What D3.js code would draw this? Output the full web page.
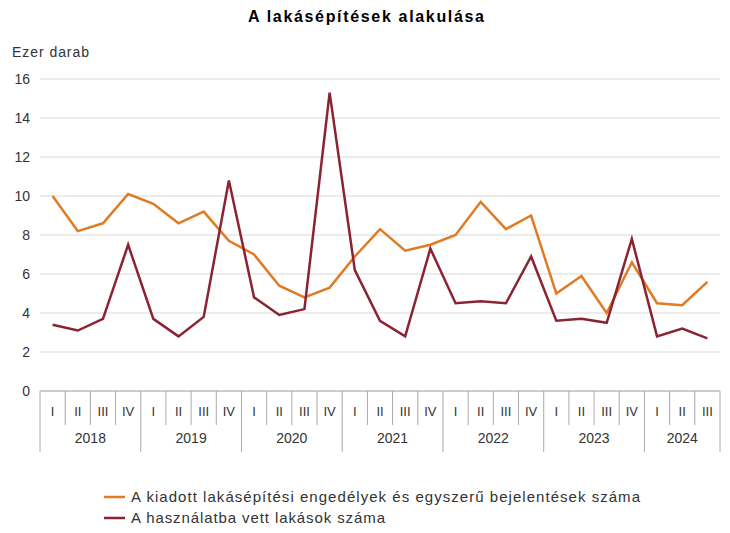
<!DOCTYPE html>
<html><head><meta charset="utf-8">
<script src="https://cdn.jsdelivr.net/npm/d3@7"></script>
<style>body{margin:0;background:#fff;font-family:"Liberation Sans",Arial,sans-serif}</style>
</head><body><svg id="c" width="730" height="533"></svg>
<script>
const years = ["2018","2019","2020","2021","2022","2023","2024"]
const quarters = ["I","II","III","IV"]
const permits = [10.0,8.2,8.6,10.1, 9.6,8.6,9.2,7.7, 7.0,5.4,4.8,5.3, 6.9,8.3,7.2,7.5, 8.0,9.7,8.3,9.0, 5.0,5.9,4.0,6.6, 4.5,4.4,5.6]
const completed = [3.4,3.1,3.7,7.5, 3.7,2.8,3.8,10.8, 4.8,3.9,4.2,15.3, 6.2,3.6,2.8,7.3, 4.5,4.6,4.5,6.9, 3.6,3.7,3.5,7.8, 2.8,3.2,2.7]
const yTicks = [0,2,4,6,8,10,12,14,16]
const seriesNames = ["A kiadott lakásépítési engedélyek és egyszerű bejelentések száma","A használatba vett lakások száma"]
const legendWidths = [509, 254]
const colors = ["#e07b24","#8b2332"]

let svg = d3.select("#c")
let keys = []
years.forEach(y => quarters.forEach(q => keys.push(y + q)))
keys = keys.slice(0, permits.length)

let x = d3.scaleBand().domain(keys).range([40, 720])
let y = d3.scaleLinear().domain([0,16]).range([391, 79])

svg.append("text").attr("x", 248).attr("y", 22).attr("textLength",236).attr("lengthAdjust","spacing")
  .attr("font-weight","bold").attr("font-size",16).text("A lakásépítések alakulása")
svg.append("text").attr("x", 12).attr("y", 57).attr("font-size",14).attr("textLength",77).attr("fill","#333").text("Ezer darab")

// grid
svg.selectAll(".grid").data(yTicks).enter().append("line")
  .attr("x1",40).attr("x2",720).attr("y1",d=>y(d)).attr("y2",d=>y(d))
  .attr("stroke",d=>d==0?"#999":"#d9d9d9")
svg.selectAll(".yl").data(yTicks).enter().append("text")
  .attr("x",30).attr("y",d=>y(d)+5).attr("text-anchor","end").attr("font-size",14).attr("fill","#333").text(d=>d)

// category axis
keys.forEach((k,i) => {
  let x0 = x(k)
  let isYear = i % 4 == 0
  svg.append("line").attr("x1",x0).attr("x2",x0).attr("y1",391).attr("y2",isYear?452:425).attr("stroke","#aaa")
  svg.append("text").attr("x",x0+x.bandwidth()/2).attr("y",416).attr("text-anchor","middle")
    .attr("font-size",13).attr("fill","#333").text(quarters[i%4])
})
svg.append("line").attr("x1",720).attr("x2",720).attr("y1",391).attr("y2",452).attr("stroke","#aaa")
years.forEach((yr,j) => {
  let ks = keys.slice(j*4, j*4+4)
  let cx = (x(ks[0]) + x(ks[ks.length-1]) + x.bandwidth())/2
  svg.append("text").attr("x",cx).attr("y",443).attr("text-anchor","middle").attr("font-size",14).attr("fill","#333").text(yr)
})

let line = d3.line().x((d,i)=>x(keys[i])+x.bandwidth()/2).y(d=>y(d))
;[permits, completed].forEach((s,i) => {
  svg.append("path").attr("d", line(s)).attr("fill","none").attr("stroke",colors[i]).attr("stroke-width",2.5)
})

// legend
seriesNames.forEach((n,i) => {
  let ly = 497 + i*21
  svg.append("line").attr("x1",104).attr("x2",125).attr("y1",ly).attr("y2",ly).attr("stroke",colors[i]).attr("stroke-width",2.5)
  svg.append("text").attr("x",131).attr("y",ly+5).attr("font-size",15).attr("textLength",legendWidths[i])
    .attr("lengthAdjust","spacing").attr("fill","#333").text(n)
})
</script></body></html>
